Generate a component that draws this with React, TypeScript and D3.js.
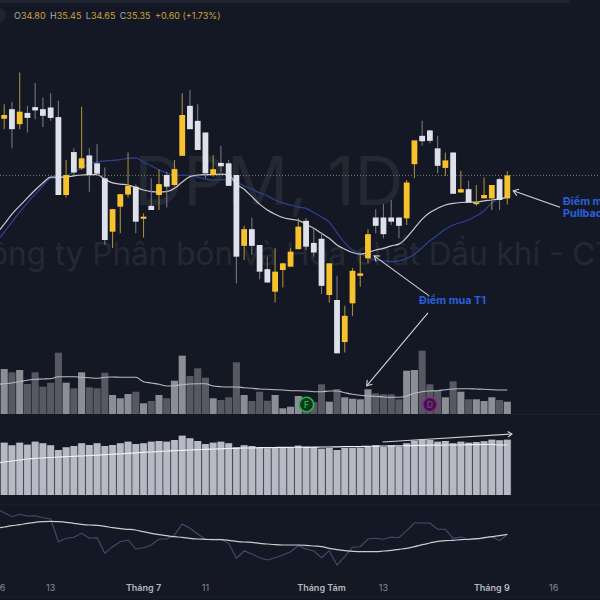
import React from "react";
import * as d3 from "d3";

const opens = [36.71,36.94,36.58,36.85,36.99,36.94,36.98,36.75,34.88,35.91,
35.52,35.83,35.64,35.28,34.00,34.60,34.89,35.08,34.31,34.62,
34.88,35.36,35.12,35.82,37.02,36.66,36.38,35.36,35.65,35.64,
35.36,33.66,34.06,33.68,33.10,32.56,33.08,33.16,33.58,34.26,
33.73,33.83,32.48,32.36,31.35,32.28,32.94,33.36,34.34,34.34,
34.34,34.34,34.32,35.62,36.30,36.43,36.00,35.53,35.90,34.94,
35.02,34.66,34.80,34.80,35.26,34.80];
const closes = [36.80,36.46,36.88,36.73,36.91,36.78,36.73,34.88,35.36,35.42,
35.76,35.36,35.39,33.80,34.54,34.90,35.10,34.24,34.36,34.52,
35.14,35.08,35.50,36.80,36.46,35.96,35.40,35.50,35.57,35.10,
33.40,34.06,33.66,33.04,32.78,33.04,33.24,33.52,34.12,33.64,
33.50,32.70,33.24,31.08,31.98,33.06,33.00,33.94,34.14,33.94,
34.24,34.14,35.18,36.19,36.17,36.18,35.58,35.71,34.91,35.02,
34.70,34.70,34.88,35.12,34.76,35.35];
const highs = [37.06,37.12,37.82,37.02,37.57,37.22,37.32,37.14,35.72,36.00,
37.00,36.00,36.10,35.54,34.54,34.90,35.90,35.14,34.44,35.28,
35.50,35.44,35.72,37.32,37.40,37.06,36.38,35.84,36.06,35.72,
35.36,34.14,34.34,33.68,33.40,33.60,33.25,33.60,34.32,34.33,
34.08,33.98,33.24,32.94,32.22,33.13,33.44,34.06,34.54,34.66,
34.76,34.34,35.24,36.19,36.66,36.44,36.30,35.90,35.90,35.46,
35.22,35.12,35.30,35.12,35.30,35.45];
const lows = [36.46,36.00,36.46,36.38,36.70,36.51,36.66,34.88,34.82,35.36,
35.48,34.96,35.36,33.68,33.61,33.96,34.82,33.96,33.86,34.52,
34.52,34.58,35.10,35.82,36.46,35.96,35.28,35.32,35.44,35.10,
32.76,33.32,33.44,32.86,32.78,32.30,32.66,33.16,33.58,33.56,
33.40,32.50,32.30,31.08,31.10,31.98,32.68,33.24,33.96,33.84,
34.16,33.84,34.16,35.28,36.06,36.12,35.40,35.34,34.91,34.94,
34.70,34.62,34.80,34.52,34.52,34.65];
const maFast = [34.18,34.42,34.62,34.81,35.00,35.17,35.31,35.31,35.31,35.34,
35.36,35.37,35.37,35.26,35.17,35.14,35.12,35.06,35.00,34.96,
34.95,34.96,35.04,35.19,35.32,35.36,35.37,35.37,35.38,35.36,
35.14,35.02,34.84,34.66,34.52,34.42,34.34,34.30,34.27,34.18,
34.08,33.96,33.84,33.68,33.58,33.50,33.46,33.50,33.56,33.60,
33.66,33.70,33.86,34.08,34.30,34.46,34.56,34.64,34.68,34.70,
34.71,34.71,34.74,34.76,34.79,34.82];
const maSlow = [33.99,34.23,34.47,34.69,34.90,35.10,35.28,35.29,35.34,35.43,
35.53,35.62,35.67,35.70,35.71,35.73,35.76,35.77,35.67,35.58,
35.48,35.41,35.35,35.35,35.35,35.31,35.26,35.24,35.25,35.24,
35.19,35.10,35.02,34.93,34.86,34.76,34.69,34.64,34.59,34.56,
34.46,34.35,34.23,33.97,33.73,33.56,33.49,33.37,33.32,33.30,
33.28,33.30,33.36,33.46,33.62,33.78,33.92,34.06,34.16,34.22,
34.28,34.38,34.50,34.69,34.80,34.83];
const volumes = [45,41.7,44,30,41.7,27.3,31.3,61.3,31.3,25.7,
41.7,26.7,25.7,41.3,19,15.7,20,22.3,10.7,13,
19,15.7,33.3,58.3,38,45.7,36.3,15.7,14,16.7,
51.7,19,13,22.3,13.3,19,5.7,7.3,18,13,
12,29.7,12.3,25,16.7,15.3,14.7,24.7,20.7,19.7,
19.7,14.7,43.3,44,63.3,29.7,23.3,16.7,32.7,22.3,
14.7,14.7,13,16.7,14,12.3];
const volumeMa = [30.3,31,32.3,33.7,34.7,35,35.3,37.3,37.3,37.3,
36.7,36.3,35.7,36.7,37,36.7,36.7,36.7,32.3,31,
29.7,28,28.3,29.3,30,30.3,30.3,28,27.3,27,
27,26.3,25.7,25,24.7,24.3,24,23.3,23.3,23,
22.3,22.3,23,23,21.3,19.7,18.7,18,17.7,17,
16.7,16.7,18,20.7,22.3,23,23.3,24.3,25,25.3,
25.3,25,24.7,24.3,24,24];
const breadth = [52.3,49.7,52.3,50.3,53.3,51.7,49.7,45,47.7,49,
51.7,50,51.7,49,50,51.7,53.3,51,51.7,53.3,
54,53.3,55,59.3,56.7,54,51,52.3,53.3,51.7,
47.7,49.7,49,47.3,46.7,47,48,48,49.3,48.3,
48,46.3,47,45,47,47,47.3,48,49.7,48,
49.7,48.3,51.7,54.3,55.7,55,53.3,54,51.7,53.3,
52.3,53,53.7,55.3,54.7,55.3];
const breadthMa = [33,34,35,36,36.7,37.1,37.5,38,38.3,38.7,
39,39.5,39.8,40.3,40.7,41.2,41.7,42.2,42.7,43,
43.5,44,44.3,44.7,45,45.3,45.7,45.9,46.2,46.5,
46.7,47,47,47.3,47.3,47.5,47.7,47.7,47.8,47.7,
47.8,48,48,48.2,48.3,48.3,48.5,48.7,48.8,49,
49,49.2,49.3,49.5,49.7,49.8,49.8,50,50,50,
50.3,50.3,50.5,50.5,50,50];
const rsi = [77.3,73.3,75.7,74,74.3,72.3,71,48.3,51.7,52.7,
56.7,51.7,52.3,36.7,43.3,48.3,50,41,42.3,45,
51,51,55,66,61.7,56,50.7,50.7,50.7,46.7,
31.7,39,36,32.3,30,32.3,35,38.3,44.3,41,
39,32.3,39.3,25,33.3,42.7,43.3,51,51.7,50.7,
53,52.3,59.3,67,67,67,60.7,60.7,51.7,53,
50.3,50.7,51.7,53.3,49.3,55.7];
const rsiMa = [63,64.3,65.3,66.7,67.7,68.3,68.7,68.3,67.7,66.7,
65.7,65,64.7,63.7,62.3,61.3,60.7,60,58.3,56.7,
55.3,54.3,53.3,52.7,51.7,51,50.7,50.3,50.3,49.7,
48.7,48,47.7,46.7,46,45.3,45,45,45,44.7,
44,43.3,41.7,40.3,39.3,38.7,38.3,38.3,38.3,39,
39.7,40.7,41.7,43.3,45.3,47,48.7,49.3,49.7,50.3,
50.7,51.3,52.3,53.3,54.3,55.7];

const tickIndex = [-0.2, 6, 18, 26, 41, 49, 63, 71];
const tickText = ["6", "13", "Tháng 7", "11", "Tháng Tám", "13", "Tháng 9", "16"];
const tickBold = [false, false, true, false, true, false, true, false];

const W = 600, H = 600;
const BG = "#141824", UP = "#f8c22f", DOWN = "#dfe1ea", BLUE = "#2a5fdc";
const FONT = "Inter, Roboto, sans-serif";
const x = d3.scaleLinear().domain([0, 65]).range([4.2, 507.3]);
const yP = d3.scaleLinear().domain([31.16, 37.16]).range([350, 100]);
const yV = d3.scaleLinear().domain([0, 70]).range([414, 344]);
const yB = d3.scaleLinear().domain([0, 60]).range([495, 435]);
const yR = d3.scaleLinear().domain([0, 100]).range([590, 490]);
const pathOf = (vals: number[], y: (v: number) => number, linear = false) => {
  const lead = vals[0] - (vals[1] - vals[0]) * 0.55;
  const pts: [number, number][] = [[-0.55, lead], ...vals.map((v, i) => [i, v] as [number, number])];
  return d3.line<[number, number]>().x((d) => x(d[0])).y((d) => y(d[1]))
    .curve(linear ? d3.curveLinear : d3.curveMonotoneX)(pts) ?? "";
};

const lastPrice = closes[closes.length - 1];
const header: [string, string][] = [["O", "34.80"], ["H", "35.45"], ["L", "34.65"], ["C", "35.35"]];

type Arrow = { from: [number, number]; to: [number, number] };
const arrows: Arrow[] = [
  { from: [54.9, 32.46], to: [47.8, 33.42] },
  { from: [54.75, 32.05], to: [46.83, 30.30] },
  { from: [71.8, 34.585], to: [65.77, 34.98] },
];

function head(x1: number, y1: number, x2: number, y2: number, s = 6) {
  const a = Math.atan2(y2 - y1, x2 - x1);
  const p = (d: number) => `${x2 - s * Math.cos(a + d)},${y2 - s * Math.sin(a + d)}`;
  return `M${p(0.6)}L${x2},${y2}L${p(-0.6)}`;
}

function Marker({ i, letter, ring, fill }: { i: number; letter: string; ring: string; fill: string }) {
  return (
    <g>
      <circle cx={x(i)} cy={404.5} r={7.2} fill={fill} stroke={ring} strokeWidth={1.6} />
      <text x={x(i)} y={407.6} textAnchor="middle" fontSize={8.5} fontWeight={600} fontFamily={FONT} fill={ring}>{letter}</text>
    </g>
  );
}

export default function App() {
  const ax1 = x(48.88), ay1 = yB(53), ax2 = x(65.6), ay2 = yB(61);
  return (
    <svg width={W} height={H} viewBox="0 0 600 600" style={{ position: "absolute", left: 0, top: 0, background: BG, display: "block" }}>
      <rect width={W} height={H} fill={BG} />
      <rect x={0} y={0} width={570} height={3} fill="#1f2330" />
      <circle cx={-1} cy={15} r={7} fill="#1f2330" />
      <line x1={510} x2={W} y1={414.5} y2={414.5} stroke="#1e222e" />
      <line x1={0} x2={W} y1={505} y2={505} stroke="#1b1f2b" />
      <line x1={0} x2={W} y1={597} y2={597} stroke="#1b1f2b" />

      <g fontFamily={FONT} fill="#242833">
        <text x={269} y={205} textAnchor="middle" fontSize={68}>DPM, 1D</text>
        <text x={312} y={265} textAnchor="middle" fontSize={31.5}>Công ty Phân bón và Hóa chất Dầu khí - CTCP</text>
      </g>

      <line x1={0} x2={W} y1={yP(lastPrice)} y2={yP(lastPrice)} stroke="#8a8778" strokeWidth={0.9} strokeDasharray="1 2" />

      <path d={pathOf(maSlow, yP)} fill="none" stroke="#2c438f" strokeWidth={1.2} />
      <path d={pathOf(maFast, yP)} fill="none" stroke="#c9cad0" strokeWidth={1.2} />

      {opens.map((o, i) => {
        const up = closes[i] >= o;
        const top = yP(Math.max(o, closes[i]));
        const bot = yP(Math.min(o, closes[i]));
        return (
          <g key={i}>
            <line x1={x(i)} x2={x(i)} y1={yP(highs[i])} y2={yP(lows[i])} stroke={up ? "#a48a3c" : "#73757e"} strokeWidth={1.1} />
            <rect x={x(i) - 2.9} width={5.8} y={top} height={Math.max(1.4, bot - top)} fill={up ? UP : DOWN} />
          </g>
        );
      })}

      {volumes.map((v, i) => (
        <rect key={i} x={x(i) - 3.55} width={7.1} y={yV(v)} height={yV(0) - yV(v)} fill={closes[i] >= opens[i] ? "#8c8d95" : "#575862"} />
      ))}
      <path d={pathOf(volumeMa, yV)} fill="none" stroke="#b9bac1" strokeWidth={1.1} />
      <Marker i={39.05} letter="F" ring="#21b84a" fill="#17331f" />
      <Marker i={55} letter="D" ring="#8a2a8e" fill="#3a1a42" />

      {breadth.map((v, i) => (
        <rect key={"u" + i} x={x(i) - 3.87} width={7.74} y={yB(v)} height={yB(0) - yB(v)} fill="#5d606b" />
      ))}
      {breadth.map((v, i) => (
        <rect key={i} x={x(i) - 3.3} width={6.6} y={yB(v)} height={yB(0) - yB(v)} fill="#b7b9c4" />
      ))}
      <path d={pathOf(breadthMa, yB)} fill="none" stroke="#eceef2" strokeWidth={1.2} />
      <path d={`M${ax1},${ay1}L${ax2},${ay2}`} stroke="#c9cad0" strokeWidth={1.1} fill="none" />
      <path d={head(ax1, ay1, ax2, ay2, 5)} stroke="#d8d9de" strokeWidth={1.1} fill="none" />

      <path d={pathOf(rsi, yR, true)} fill="none" stroke="#4a4872" strokeWidth={1.1} />
      <path d={pathOf(rsiMa, yR)} fill="none" stroke="#c9cad2" strokeWidth={1.2} />

      {arrows.map((a, i) => {
        const [x1, y1] = [x(a.from[0]), yP(a.from[1])];
        const [x2, y2] = [x(a.to[0]), yP(a.to[1])];
        return (
          <g key={i} fill="none" stroke="#d3d4da" strokeWidth={1.1}>
            <path d={`M${x1},${y1}L${x2},${y2}`} />
            <path d={head(x1, y1, x2, y2)} />
          </g>
        );
      })}

      <g fontFamily={FONT} fontWeight={700} fontSize={10.8} fill={BLUE}>
        <text x={452.5} y={304} textAnchor="middle">Điểm mua T1</text>
        <text x={563} y={205}>Điểm mua</text>
        <text x={563} y={217}>Pullback</text>
      </g>

      <text x={14} y={18.5} fontFamily={FONT} fontSize={9} fill="#c8a43e">
        {header.map(([k, v], i) => (
          <tspan key={k} dx={i ? 4.4 : 0}><tspan fill="#a9acb6">{k}</tspan>{v}</tspan>
        ))}
        <tspan dx={4.4}>+0.60 (+1.73%)</tspan>
      </text>

      {tickText.map((t, i) => (
        <text key={i} x={x(tickIndex[i])} y={590.5} textAnchor="middle" fontFamily={FONT} fontSize={9}
          fontWeight={tickBold[i] ? 600 : 400} fill={tickBold[i] ? "#b6b8c0" : "#878a94"}>{t}</text>
      ))}
    </svg>
  );
}
